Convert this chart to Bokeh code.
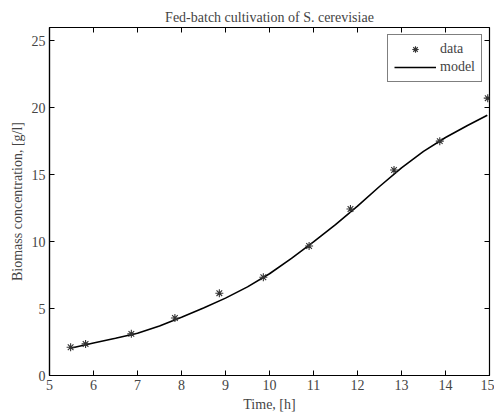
from bokeh.plotting import figure
from bokeh.models import LinearAxis, FixedTicker, Range1d, Legend, LegendItem
from bokeh.embed import file_html
from bokeh.resources import INLINE

# data
t_data = [5.48, 5.82, 6.86, 7.85, 8.86, 9.86, 10.90, 11.84, 12.83, 13.87, 14.96]
x_data = [2.11, 2.36, 3.11, 4.30, 6.15, 7.34, 9.68, 12.44, 15.35, 17.51, 20.72]

t_model = [5.5, 6.0, 6.5, 7.0, 7.5, 8.0, 8.5, 9.0, 9.5, 10.0, 10.5, 11.0, 11.5,
           12.0, 12.5, 13.0, 13.5, 14.0, 14.5, 14.95]
x_model = [2.05, 2.43, 2.78, 3.15, 3.70, 4.36, 5.05, 5.78, 6.62, 7.60, 8.75, 9.98, 11.28,
           12.65, 14.12, 15.52, 16.75, 17.78, 18.68, 19.45]

x_ticks = list(range(5, 16))
y_ticks = [0, 5, 10, 15, 20, 25]

FONT = "Liberation Serif"

p = figure(width=494, height=415, output_backend="svg", toolbar_location=None,
           x_range=Range1d(5, 15), y_range=Range1d(0, 26),
           title="Fed-batch cultivation of S. cerevisiae",
           min_border_left=49, min_border_right=5, min_border_top=27, min_border_bottom=40)
p.title.text_font = FONT
p.title.text_font_size = "14px"
p.title.text_font_style = "normal"
p.title.align = "center"
p.title.standoff = 6

p.xgrid.visible = False
p.ygrid.visible = False
p.outline_line_color = "black"
p.outline_line_width = 1.2
p.background_fill_color = "white"
p.border_fill_color = "white"

for ax in (p.xaxis[0], p.yaxis[0]):
    ax.major_label_text_font = FONT
    ax.major_label_text_font_size = "14px"
    ax.axis_label_text_font = FONT
    ax.axis_label_text_font_size = "14px"
    ax.axis_label_text_font_style = "normal"
    ax.major_tick_in = 5
    ax.major_tick_out = 0
    ax.minor_tick_line_color = None
    ax.axis_line_color = "black"
    ax.axis_line_width = 1.2
    ax.major_label_standoff = 4
    ax.axis_label_standoff = 4

p.xaxis[0].ticker = FixedTicker(ticks=x_ticks)
p.yaxis[0].ticker = FixedTicker(ticks=y_ticks)
p.xaxis[0].axis_label = "Time, [h]"
p.yaxis[0].axis_label = "Biomass concentration, [g/l]"

top = LinearAxis(ticker=FixedTicker(ticks=x_ticks),
                 major_label_overrides={t: "" for t in x_ticks},
                 major_tick_in=5, major_tick_out=0, minor_tick_line_color=None,
                 axis_line_color=None, major_label_standoff=0)
right = LinearAxis(ticker=FixedTicker(ticks=y_ticks),
                   major_label_overrides={t: "" for t in y_ticks},
                   major_tick_in=5, major_tick_out=0, minor_tick_line_color=None,
                   axis_line_color=None, major_label_standoff=0)
p.add_layout(top, "above")
p.add_layout(right, "right")

r_model = p.line(t_model, x_model, line_color="black", line_width=1.6)
r_data = p.scatter(t_data, x_data, marker="asterisk", size=8, line_color="#333333", line_width=1.1)

legend = Legend(items=[LegendItem(label="data", renderers=[r_data]),
                       LegendItem(label="model", renderers=[r_model])],
                location="top_right")
legend.label_text_font = FONT
legend.label_text_font_size = "14px"
legend.border_line_color = "black"
legend.border_line_width = 1
legend.glyph_width = 42
legend.glyph_height = 16
legend.label_height = 16
legend.spacing = 2
legend.padding = 6
legend.margin = 7
legend.label_standoff = 4
p.add_layout(legend)

open("out.html", "w").write(file_html(p, INLINE))
